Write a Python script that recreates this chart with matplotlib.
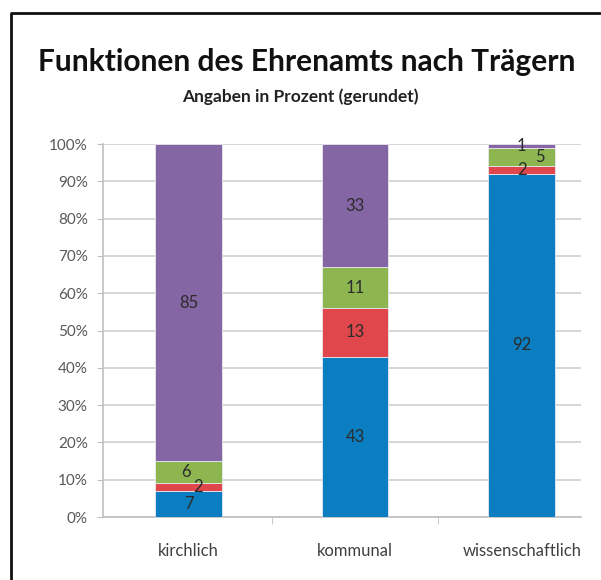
import numpy as np
import matplotlib
matplotlib.use('Agg')
import matplotlib.pyplot as plt
from matplotlib.lines import Line2D
from matplotlib.ticker import PercentFormatter

categories = ['kirchlich', 'kommunal', 'wissenschaftlich']
blue = [7, 43, 92]
red = [2, 13, 2]
green = [6, 11, 5]
purple = [85, 33, 1]

series = [blue, red, green, purple]
colors = ['#0B7DC1', '#E0474C', '#8DB650', '#8466A4']

# horizontal nudges (points) for labels Excel pushed aside
nudge = {(1, 0): 7, (2, 0): -2, (2, 2): 13}

plt.rcParams['font.family'] = ['Lato', 'DejaVu Sans']

fig = plt.figure(figsize=(6.01, 5.80), dpi=100)
ax = fig.add_axes([0.1714, 0.1086, 0.7953, 0.6431])

x = np.arange(len(categories))
bottom = np.zeros(len(categories))
for s, (vals, col) in enumerate(zip(series, colors)):
    vals = np.array(vals, dtype=float)
    ax.bar(x, vals, 0.40, bottom=bottom, color=col, edgecolor='#E8E8F0',
           linewidth=0.6, zorder=3)
    for i, v in enumerate(vals):
        ax.annotate(f'{v:.0f}', (x[i], bottom[i] + v / 2),
                    xytext=(nudge.get((s, i), 0), 0), textcoords='offset points',
                    ha='center', va='center', fontsize=12, color='#2B2B2B', zorder=4)
    bottom += vals

ax.set_ylim(0, 100)
ax.set_xlim(-0.513, 2.355)
ax.yaxis.set_major_formatter(PercentFormatter(decimals=0))
ax.set_yticks(np.arange(0, 101, 10))
ax.yaxis.grid(True, color='#D6D6D6', linewidth=1.4, zorder=0)
ax.set_xticks(x)
ax.set_xticklabels(categories, fontsize=12, color='#404040')
ax.set_xticks([0.5, 1.5], minor=True)
ax.tick_params(axis='x', which='major', length=0, pad=19)
ax.tick_params(axis='x', which='minor', length=5, color='#BFBFBF')
ax.tick_params(axis='y', length=4, color='#BFBFBF', labelsize=11, labelcolor='#595959', pad=7)
for sp in ['top', 'right']:
    ax.spines[sp].set_visible(False)
for sp in ['left', 'bottom']:
    ax.spines[sp].set_color('#BFBFBF')
    ax.spines[sp].set_linewidth(1.2)

fig.text(0.511, 0.893, 'Funktionen des Ehrenamts nach Trägern', ha='center', va='center',
         fontsize=21.5, fontweight='bold', color='#111111')
fig.text(0.5, 0.833, 'Angaben in Prozent (gerundet)', ha='center', va='center',
         fontsize=12.5, fontweight='bold', color='#222222')

# outer frame: only the left and top edges are inside the picture
fx, fy = 11 / 601, 1 - 13 / 580
fig.add_artist(Line2D([fx, fx, 1.0], [0.0, fy, fy], transform=fig.transFigure,
                      color='#111111', linewidth=2))

fig.savefig('out.png', dpi=100)
